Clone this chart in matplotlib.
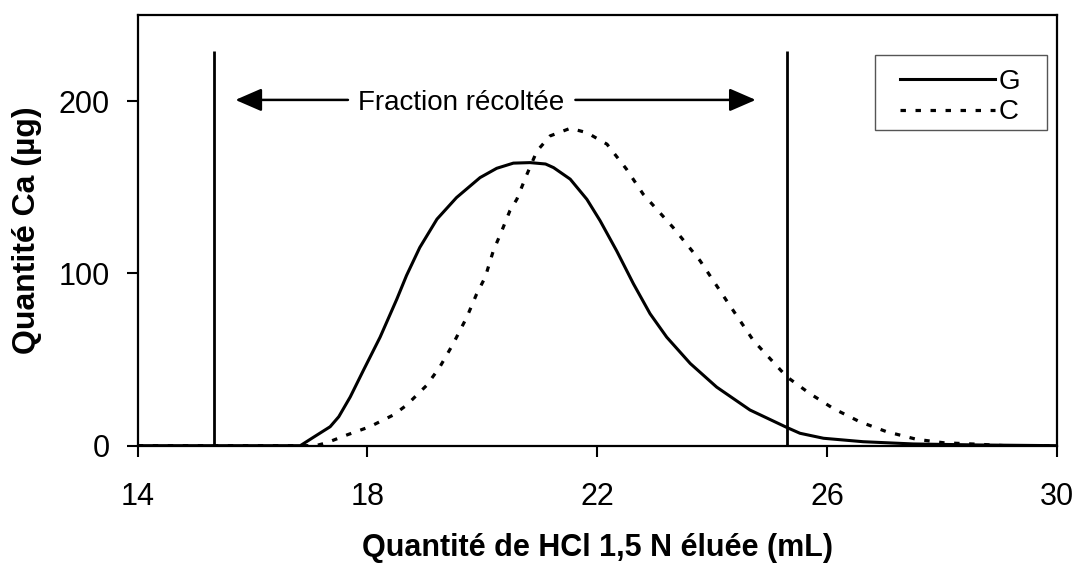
import matplotlib.pyplot as plt
from matplotlib.lines import Line2D
from matplotlib.patches import Rectangle

plt.rcParams["font.family"] = ["Liberation Sans", "DejaVu Sans"]

# Courbe G (trait plein)
g_x = [14, 16.83, 17.06, 17.35, 17.5, 17.7, 17.93, 18.22, 18.51, 18.68, 18.91, 19.21,
       19.55, 19.96, 20.25, 20.54, 20.83, 21.1, 21.24, 21.53, 21.82, 22.05, 22.34, 22.63,
       22.92, 23.21, 23.62, 24.08, 24.66, 25.3, 25.53, 25.94, 26.63, 27.5, 28.66, 30]
g_y = [0, 0, 4.9, 11, 16.8, 28.3, 43.8, 63, 85, 98.8, 115, 131.5,
       144, 155.6, 161, 164, 164.3, 163.5, 161.4, 154.7, 143, 130.6, 113, 94,
       76.6, 63, 47.7, 34, 20.7, 10.6, 7.2, 4.3, 2.3, 1, 0.4, 0]

# Courbe C (pointillés)
c_x = [14, 17.1, 17.29, 17.64, 18.04, 18.45, 18.68, 19.03, 19.26, 19.49, 19.73, 19.9,
       20.05, 20.19, 20.34, 20.48, 20.6, 20.77, 20.95, 21.18, 21.53, 21.82, 22.17, 22.51,
       22.8, 23.32, 23.79, 24.25, 24.72, 25.3, 25.7, 26.11, 26.57, 27.04, 27.56, 28.03,
       28.66, 29.1, 30]
c_y = [0, 0, 1.7, 6.2, 11, 17.8, 23.5, 35, 45.7, 59, 74.6, 88,
       97.8, 113, 124.8, 136.4, 143, 157, 171, 179.8, 184.2, 181.7, 175, 160.5,
       146, 126.7, 107.4, 84.3, 61, 40, 30.3, 21.6, 13.9, 8.1, 3.7, 1.7,
       0.8, 0, 0]

# Limites de la fraction récoltée
fraction_limits = [15.32, 25.3]
fraction_top = 229

x_ticks = [14, 18, 22, 26, 30]
y_ticks = [0, 100, 200]

fig = plt.figure(figsize=(10.72, 5.65), dpi=100)
ax = fig.add_axes([0.1285, 0.2112, 0.8572, 0.7623])

dash = (0, (1.7, 3.0))
ax.plot(g_x, g_y, color="black", lw=2.2, solid_joinstyle="round")
ax.plot(c_x, c_y, color="black", lw=2.3, linestyle=dash)
ax.vlines(fraction_limits, 0, fraction_top, color="black", lw=2)

arrow = dict(arrowstyle="-|>,head_length=1.15,head_width=0.5", color="black", lw=1.8,
             mutation_scale=14, shrinkA=0, shrinkB=0)
ax.annotate("", xy=(15.7, 200.7), xytext=(17.66, 200.7), arrowprops=arrow)
ax.annotate("", xy=(24.76, 200.7), xytext=(21.62, 200.7), arrowprops=arrow)
ax.text(19.63, 199, "Fraction récoltée", fontsize=20, ha="center", va="center")

ax.set_xlim(14, 30)
ax.set_ylim(0, 250)
ax.set_xticks(x_ticks)
ax.set_yticks(y_ticks)
ax.tick_params(direction="out", length=8, width=1.5, labelsize=22)
ax.tick_params(axis="x", pad=18)
ax.tick_params(axis="y", pad=12)
for s in ax.spines.values():
    s.set_linewidth(1.6)

ax.set_xlabel("Quantité de HCl 1,5 N éluée (mL)", fontsize=22, fontweight="bold", labelpad=15)
ax.set_ylabel("Quantité Ca (µg)", fontsize=23, fontweight="bold", labelpad=12)

# cadre de la légende
ax.add_patch(Rectangle((0.802, 0.733), 0.1875, 0.174, transform=ax.transAxes,
                       fill=False, edgecolor="#555555", lw=1, zorder=4))
handles = [Line2D([], [], color="black", lw=2.2),
           Line2D([], [], color="black", lw=2.3, linestyle=dash)]
leg = ax.legend(handles, ["G", "C"], loc="upper left", bbox_to_anchor=(0.8296, 0.8746),
                borderaxespad=0, borderpad=0, frameon=False,
                fontsize=20, handlelength=3.4, handletextpad=0.15, labelspacing=0.16)

fig.savefig("out.png", dpi=100)
